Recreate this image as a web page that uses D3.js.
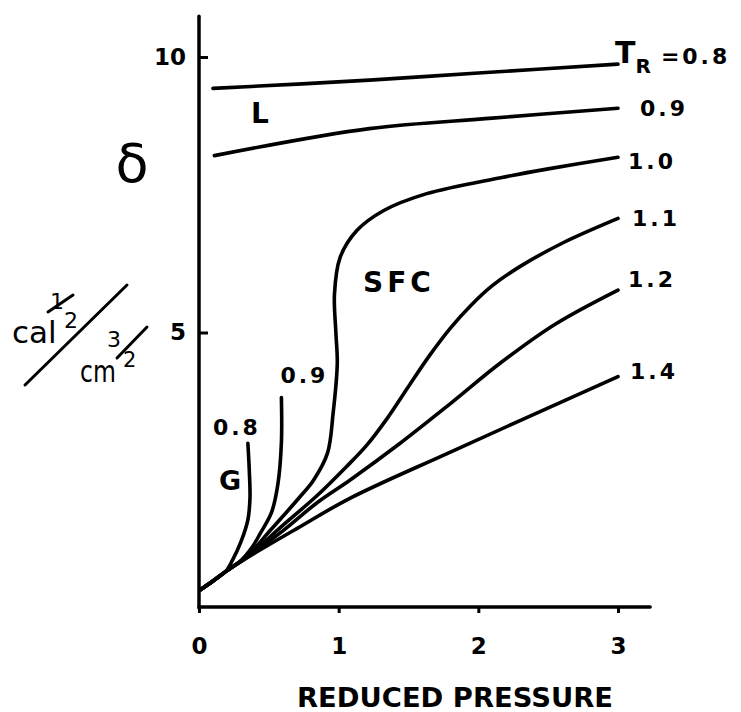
<!DOCTYPE html>
<html>
<head>
<meta charset="utf-8">
<script src="https://cdn.jsdelivr.net/npm/d3@7"></script>
<style>
  body { margin: 0; background: #fff; }
  svg { display: block; }
  text { font-family: "DejaVu Sans", sans-serif; fill: #000; }
</style>
</head>
<body>
<svg width="741" height="712"></svg>
<script>
const svg = d3.select('svg');

// curves: [reduced pressure, delta]
const liquid08 = [[0.1,9.43],[1.22,9.58],[2.0,9.71],[3.0,9.87]];
const liquid09 = [[0.11,8.21],[1.22,8.70],[2.1,8.89],[3.0,9.07]];
const gas08 = [[0.01,0.33],[0.1,0.49],[0.19,0.66],[0.24,0.87],[0.30,1.2],[0.35,1.6],[0.365,2.0],[0.36,2.5],[0.35,2.99]];
const gas09 = [[0.01,0.33],[0.1,0.49],[0.19,0.66],[0.3,0.86],[0.38,1.1],[0.44,1.36],[0.52,1.74],[0.565,2.25],[0.59,3.0],[0.59,3.82]];
const sfc10 = [[0.01,0.33],[0.1,0.49],[0.19,0.66],[0.35,0.95],[0.5,1.38],[0.62,1.72],[0.72,2.01],[0.82,2.32],[0.92,2.81],[0.96,3.53],[0.99,4.44],[0.98,5.0],[0.97,5.7],[1.01,6.36],[1.13,6.85],[1.32,7.21],[1.63,7.52],[2.16,7.81],[2.5,7.97],[3.0,8.18]];
const sfc11 = [[0.01,0.33],[0.1,0.49],[0.19,0.66],[0.35,0.94],[0.6,1.5],[0.85,2.05],[1.05,2.55],[1.2,2.95],[1.35,3.45],[1.5,4.02],[1.65,4.58],[1.8,5.08],[1.95,5.5],[2.1,5.85],[2.3,6.2],[2.6,6.62],[3.0,7.07]];
const sfc12 = [[0.01,0.33],[0.1,0.49],[0.19,0.66],[0.35,0.93],[0.6,1.4],[0.85,1.92],[1.08,2.32],[1.44,2.99],[1.80,3.71],[2.16,4.45],[2.55,5.15],[3.0,5.77]];
const sfc14 = [[0.01,0.33],[0.1,0.49],[0.19,0.66],[0.35,0.92],[0.7,1.44],[1.08,1.99],[1.8,2.83],[3.0,4.2]];

const curves = [liquid08, liquid09, gas08, gas09, sfc10, sfc11, sfc12, sfc14];
const rightLabels = ["0.9", "1.0", "1.1", "1.2", "1.4"];
const rightCurves = [liquid09, sfc10, sfc11, sfc12, sfc14];
const gasLabels = ["0.8", "0.9"];
const yTicks = [5, 10];
const xTicks = [0, 1, 2, 3];

// label nudges (px) relative to the curve end
const rightOffsets = [[22, 0], [10, 4], [14, 0], [10, -11], [12, -6]];
const gasOffsets = [[-11, -8], [23, -15]];

const x = d3.scaleLinear().domain([0, 3]).range([199, 618]);
const y = d3.scaleLinear().domain([0, 10]).range([608, 57]);

// axes
svg.append('line')
  .attr('x1', x(0)).attr('x2', x(0))
  .attr('y1', y(10.74)).attr('y2', y(0))
  .attr('stroke', '#000').attr('stroke-width', 3.5).attr('stroke-linecap', 'round');
svg.append('line')
  .attr('x1', x(0)).attr('x2', x(3.23))
  .attr('y1', y(0) - 1).attr('y2', y(0) - 1)
  .attr('stroke', '#000').attr('stroke-width', 3.5).attr('stroke-linecap', 'round');

const yAxis = svg.append('g')
  .attr('transform', `translate(${x(0)},0)`)
  .call(d3.axisLeft(y).tickValues(yTicks).tickSizeInner(-9).tickSizeOuter(0).tickPadding(13));
yAxis.select('.domain').remove();
yAxis.selectAll('line').attr('stroke-width', 3);
yAxis.selectAll('text').attr('font-size', 23).attr('font-weight', 'bold')
  .style('font-family', '"DejaVu Sans", sans-serif');

const xAxis = svg.append('g')
  .attr('transform', `translate(0,${y(0) - 1})`)
  .call(d3.axisBottom(x).tickValues(xTicks).tickSizeInner(6).tickSizeOuter(0).tickPadding(25).tickFormat(d3.format('d')));
xAxis.select('.domain').remove();
xAxis.selectAll('line').attr('stroke-width', 3);
xAxis.selectAll('text').attr('font-size', 23).attr('font-weight', 'bold')
  .style('font-family', '"DejaVu Sans", sans-serif');

// curves
const line = d3.line()
  .x(d => x(d[0]))
  .y(d => y(d[1]))
  .curve(d3.curveCatmullRom.alpha(0.5));

svg.selectAll('path.curve')
  .data(curves)
  .enter().append('path')
  .attr('class', 'curve')
  .attr('d', line)
  .attr('fill', 'none')
  .attr('stroke', '#000')
  .attr('stroke-width', 3.6)
  .attr('stroke-linecap', 'round')
  .attr('stroke-linejoin', 'round');

// labels at the right end of the curves
svg.selectAll('text.rlab')
  .data(rightLabels)
  .enter().append('text')
  .attr('class', 'rlab')
  .attr('x', (d, i) => x(rightCurves[i][rightCurves[i].length - 1][0]) + rightOffsets[i][0])
  .attr('y', (d, i) => y(rightCurves[i][rightCurves[i].length - 1][1]) + rightOffsets[i][1] + 8)
  .attr('font-size', 22).attr('font-weight', 'bold').attr('letter-spacing', 3)
  .text(d => d);

// T_R = 0.8 label
const last08 = liquid08[liquid08.length - 1];
const tr = svg.append('text')
  .attr('x', x(last08[0]) - 3)
  .attr('y', y(last08[1]) - 1)
  .attr('font-weight', 'bold');
tr.append('tspan').attr('font-size', 30).text('T');
tr.append('tspan').attr('font-size', 20).attr('dx', 0).attr('dy', 10).text('R');
tr.append('tspan').attr('font-size', 22).attr('dx', 10).attr('dy', -9).attr('letter-spacing', 3).text('=0.8');

// gas-side labels above the curve tops
const gasCurves = [gas08, gas09];
svg.selectAll('text.glab')
  .data(gasLabels)
  .enter().append('text')
  .attr('class', 'glab')
  .attr('text-anchor', 'middle')
  .attr('x', (d, i) => x(gasCurves[i][gasCurves[i].length - 1][0]) + gasOffsets[i][0])
  .attr('y', (d, i) => y(gasCurves[i][gasCurves[i].length - 1][1]) + gasOffsets[i][1])
  .attr('font-size', 22).attr('font-weight', 'bold').attr('letter-spacing', 3)
  .text(d => d);

// region letters
svg.append('text').attr('x', 251).attr('y', 123).attr('font-size', 28).attr('font-weight', 'bold').text('L');
svg.append('text').attr('x', 219).attr('y', 490).attr('font-size', 27).attr('font-weight', 'bold').text('G');
svg.append('text').attr('x', 363).attr('y', 292).attr('font-size', 28).attr('font-weight', 'bold')
  .attr('letter-spacing', 4).text('SFC');

// y label: delta, cal^1/2 / cm^3/2
svg.append('text').attr('x', 132).attr('y', 182).attr('text-anchor', 'middle')
  .attr('font-size', 54).text('δ');

const unit = svg.append('g');
const calText = unit.append('text');
calText.append('tspan').attr('x', 12).attr('y', 343).attr('font-size', 31).text('cal');
calText.append('tspan').attr('x', 50).attr('y', 309).attr('font-size', 22).text('1');
calText.append('tspan').attr('x', 64).attr('y', 328).attr('font-size', 22).text('2');
unit.append('line').attr('x1', 48).attr('y1', 312).attr('x2', 73).attr('y2', 295)
  .attr('stroke', '#000').attr('stroke-width', 3).attr('stroke-linecap', 'round');
unit.append('line').attr('x1', 25).attr('y1', 385).attr('x2', 127).attr('y2', 285)
  .attr('stroke', '#000').attr('stroke-width', 3).attr('stroke-linecap', 'round');
unit.append('text').attr('font-size', 31)
  .attr('transform', 'translate(80,382) scale(0.76,1)').text('cm');
const cmPow = unit.append('text');
cmPow.append('tspan').attr('x', 107).attr('y', 347).attr('font-size', 22).text('3');
cmPow.append('tspan').attr('x', 123).attr('y', 367).attr('font-size', 21).text('2');
unit.append('line').attr('x1', 117).attr('y1', 358).attr('x2', 147).attr('y2', 327)
  .attr('stroke', '#000').attr('stroke-width', 3).attr('stroke-linecap', 'round');

// x title
svg.append('text').attr('x', 297).attr('y', 707).attr('font-size', 26).attr('font-weight', 'bold')
  .attr('textLength', 316).attr('lengthAdjust', 'spacingAndGlyphs').text('REDUCED PRESSURE');
</script>
</body>
</html>
